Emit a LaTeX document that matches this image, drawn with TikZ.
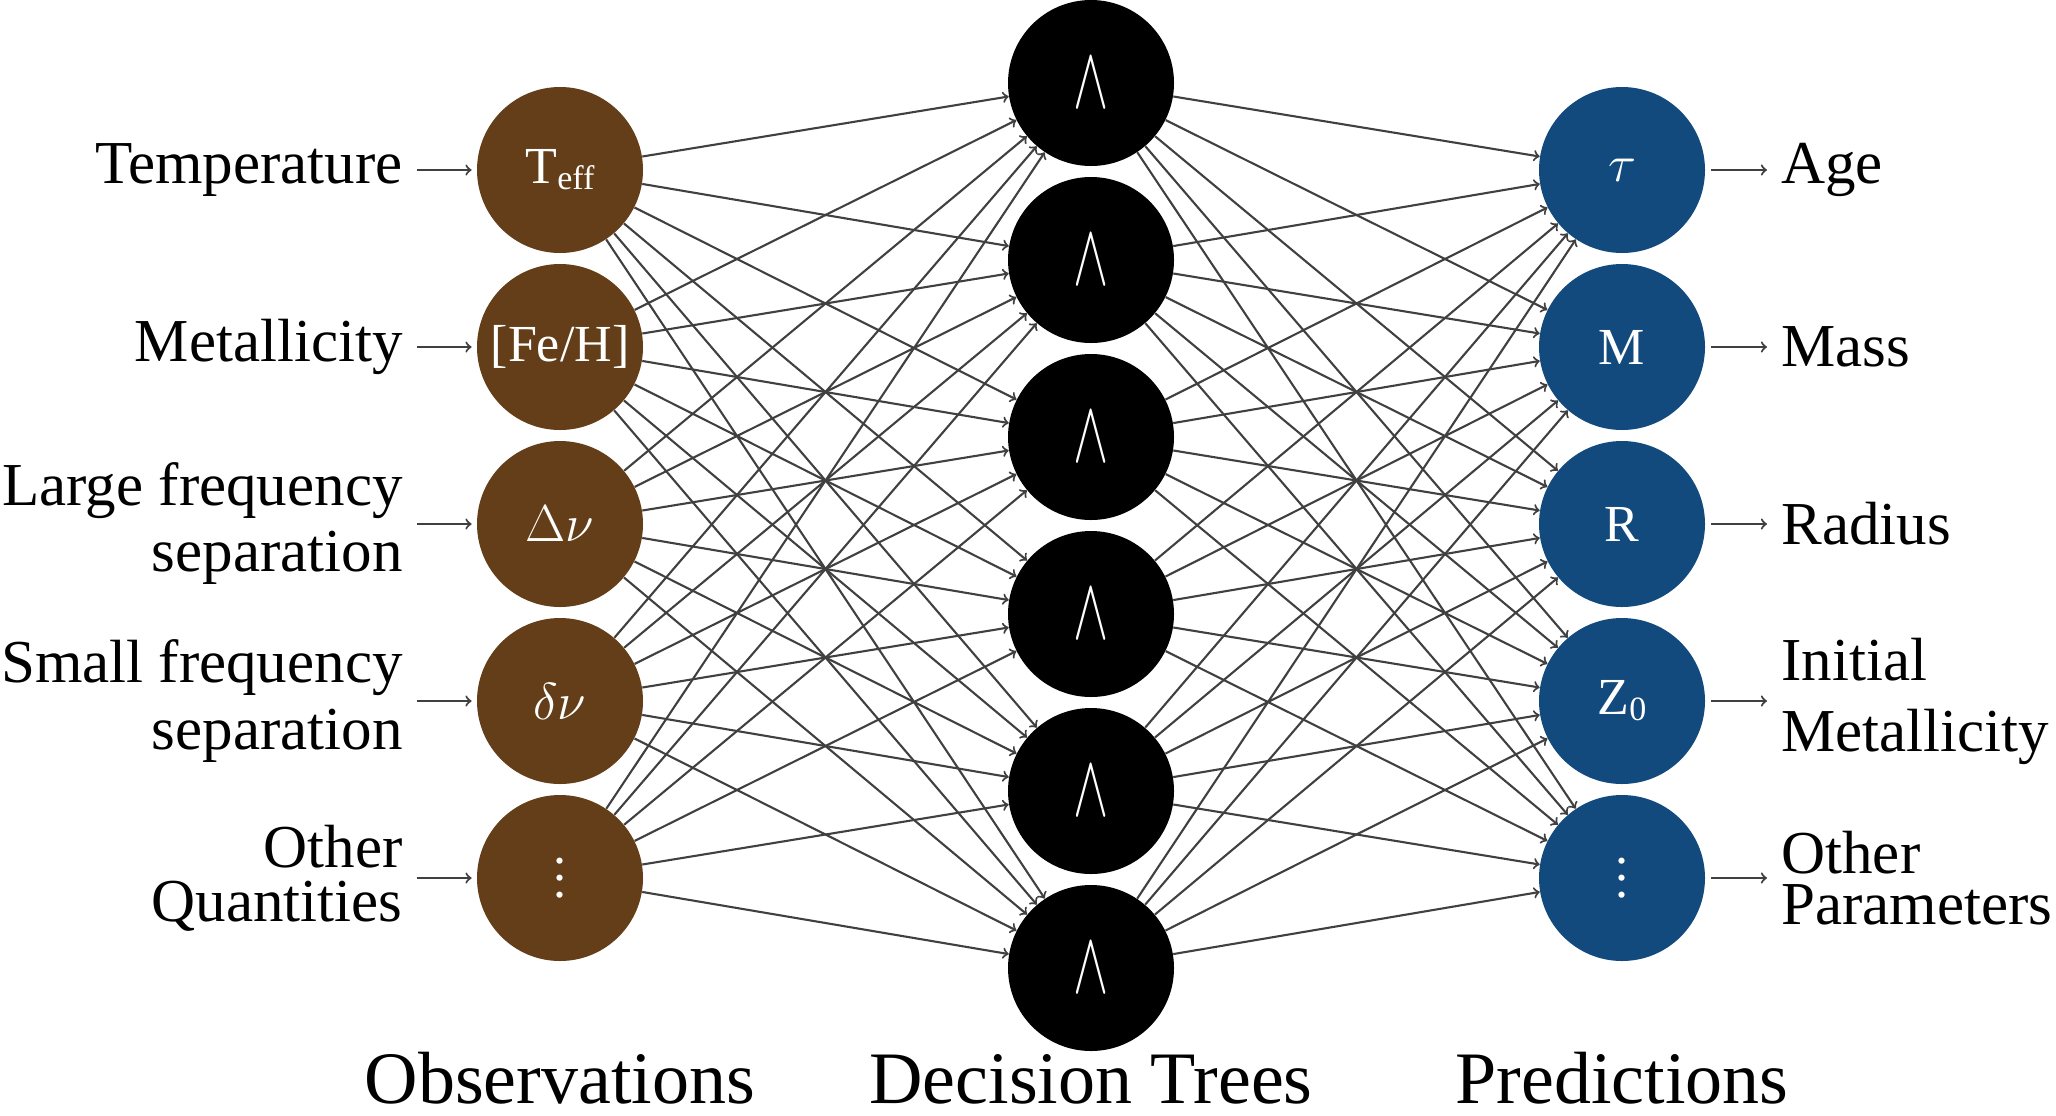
\RequirePackage{fix-cm}
\documentclass[tikz,border=0pt]{standalone}
\usepackage{fontspec}
\setmainfont{Liberation Serif}
\usepackage{graphicx}
\definecolor{obsbrown}{RGB}{99,62,24}
\definecolor{predblue}{RGB}{19,74,125}
\definecolor{linegray}{RGB}{64,64,64}
\newcommand{\mydots}{\vbox{\baselineskip=8.5pt\lineskiplimit=0pt\lineskip=0pt\hbox{.}\hbox{.}\hbox{.}}}
\begin{document}
\begin{tikzpicture}[x=0.5pt,y=-0.5pt,
  obs/.style={circle,fill=obsbrown,minimum size=83pt,inner sep=0pt,text=white,font=\fontsize{26}{30}\selectfont},
  tree/.style={circle,fill=black,minimum size=83pt,inner sep=0pt,text=white,font=\fontsize{44}{48}\selectfont},
  pred/.style={circle,fill=predblue,minimum size=83pt,inner sep=0pt,text=white,font=\fontsize{26}{30}\selectfont},
  conn/.style={draw=linegray,line width=1.05pt,->},
  lab/.style={inner xsep=7pt,inner ysep=0pt,font=\fontsize{30.5}{33}\selectfont},
  title/.style={font=\fontsize{37}{40}\selectfont,inner sep=0pt,anchor=base}]
\useasboundingbox (0,0) rectangle (2056,1115);

% observation nodes
\node[obs] (o1) at (560,170) {T\raisebox{-3pt}{\fontsize{17}{17}\selectfont eff}};
\node[obs] (o2) at (560,347) {[Fe/H]};
\node[obs] (o3) at (560,524) {$\Delta\nu$};
\node[obs] (o4) at (560,701) {$\delta\nu$};
\node[obs] (o5) at (560,878) {\mydots};

% decision tree nodes
\foreach \j/\y in {1/83,2/260,3/437,4/614,5/791,6/968}
  \node[tree] (t\j) at (1091,\y) {\scalebox{0.6}[1]{$\wedge$}};

% prediction nodes
\node[pred] (p1) at (1622,170) {$\tau$};
\node[pred] (p2) at (1622,347) {M};
\node[pred] (p3) at (1622,524) {R};
\node[pred] (p4) at (1622,701) {Z\raisebox{-3pt}{\fontsize{17}{17}\selectfont 0}};
\node[pred] (p5) at (1622,878) {\mydots};

% connections
\foreach \i in {1,...,5}
  \foreach \j in {1,...,6}
    \draw[conn] (o\i) -- (t\j);
\foreach \j in {1,...,6}
  \foreach \k in {1,...,5}
    \draw[conn] (t\j) -- (p\k);

% left labels
\node[lab,anchor=east,align=right] (l1) at (417,170) {Temperature};
\node[lab,anchor=east,align=right] (l2) at (417,347) {Metallicity};
\node[lab,anchor=east,align=right,font=\fontsize{30.5}{33}\selectfont] (l3) at (417,524) {Large frequency\\separation};
\node[lab,anchor=east,align=right,font=\fontsize{30.5}{33.5}\selectfont] (l4) at (417,701) {Small frequency\\separation};
\node[lab,anchor=east,align=right,font=\fontsize{30.5}{27}\selectfont] (l5) at (417,878) {Other\\Quantities};

\foreach \i in {1,...,5}
  \draw[conn,shorten >=2.5pt] (l\i.east |- o\i) -- (o\i);

% right labels
\node[lab,anchor=west,align=left] (r1) at (1767,170) {Age};
\node[lab,anchor=west,align=left] (r2) at (1767,347) {Mass};
\node[lab,anchor=west,align=left] (r3) at (1767,524) {Radius};
\node[lab,anchor=west,align=left,font=\fontsize{30.5}{35.5}\selectfont] (r4) at (1767,701) {Initial\\Metallicity};
\node[lab,anchor=west,align=left,font=\fontsize{30.5}{25.5}\selectfont] (r5) at (1767,878) {Other\\Parameters};

\foreach \k in {1,...,5}
  \draw[conn,shorten <=3pt] (p\k) -- (r\k.west |- p\k);

% titles
\node[title] (b1) at (560,1103) {Observations};
\node[title] (b2) at (1091,1103) {Decision Trees};
\node[title] (b3) at (1622,1103) {Predictions};
\end{tikzpicture}
\end{document}
